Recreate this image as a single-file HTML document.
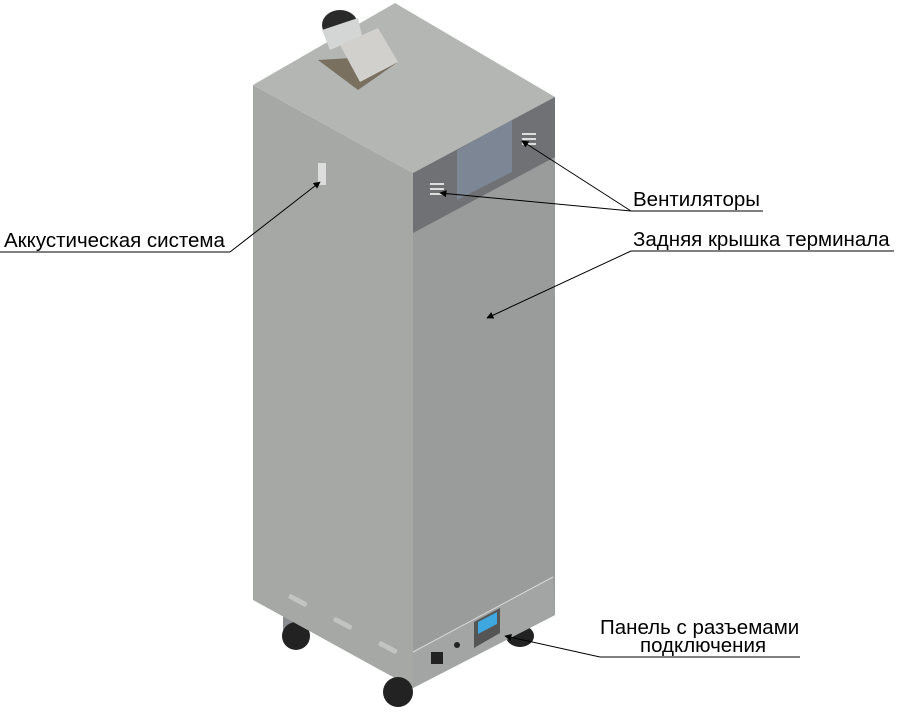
<!DOCTYPE html>
<html><head><meta charset="utf-8"><style>
html,body{margin:0;padding:0;background:#fff;}
svg{display:block;}
text{font-family:"Liberation Sans",Arial,sans-serif;font-size:20.5px;fill:#000;}
</style></head><body>
<svg width="900" height="717" viewBox="0 0 900 717" xmlns="http://www.w3.org/2000/svg">
<defs>
<marker id="ar" viewBox="0 0 10 10" refX="9" refY="5" markerWidth="9" markerHeight="7" orient="auto-start-reverse" markerUnits="userSpaceOnUse"><path d="M0,0 L10,5 L0,10 z" fill="#000"/></marker>
</defs>
<ellipse cx="520" cy="636" rx="14" ry="11" fill="#222"/>
<rect x="283" y="610" width="14" height="20" fill="#8a8d90"/>
<ellipse cx="296" cy="636" rx="14" ry="14" fill="#222"/>
<polygon points="253,85 413,173 413,688 253,600" fill="#a6a8a6"/>
<polygon points="413,173 555,97 555,615 413,688" fill="#9a9c9b"/>
<polygon points="253,85 395,3 555,97 413,173" fill="#b4b6b4"/>
<polygon points="413,173 555,97 555,157 413,233" fill="#6f7174"/>
<polygon points="457,150 512,120 512,172 457,200" fill="#7d8694"/>
<g fill="#ddd"><rect x="430" y="183" width="14" height="2"/><rect x="430" y="188" width="14" height="2"/><rect x="430" y="193" width="14" height="2"/><rect x="522" y="133" width="14" height="2"/><rect x="522" y="138" width="14" height="2"/><rect x="522" y="143" width="14" height="2"/></g>
<polygon points="413,652 553,577 555,615 413,688" fill="#a3a5a4"/>
<line x1="413" y1="652" x2="553" y2="577" stroke="#d8d8d8" stroke-width="1"/>
<polygon points="474,622 500,608 500,633 474,648" fill="#555"/>
<polygon points="478,622 497,612 497,624 478,634" fill="#3fa7e0"/>
<rect x="431" y="652" width="12" height="12" fill="#222"/>
<circle cx="457" cy="645" r="3" fill="#222"/>
<g fill="#c2c4c2"><rect x="288" y="598" width="20" height="5" rx="2" transform="rotate(28 298 600)"/><rect x="333" y="621" width="20" height="5" rx="2" transform="rotate(28 343 623)"/><rect x="378" y="645" width="20" height="5" rx="2" transform="rotate(28 388 647)"/></g>
<g fill="#ddd"><rect x="318" y="163" width="8" height="22"/></g>
<ellipse cx="398" cy="692" rx="15" ry="15" fill="#222"/>
<ellipse cx="340" cy="25" rx="18" ry="15" fill="#2a2a2a"/>
<polygon points="322,30 358,18 362,36 330,50" fill="#d4d6d6"/>
<polygon points="318,60 385,56 398,62 358,90" fill="#7a7060"/>
<polygon points="340,45 378,28 398,62 360,82" fill="#d2d0cc"/>
<g stroke="#000" stroke-width="1" fill="none">
<line x1="230" y1="252" x2="0" y2="252"/>
<line x1="230" y1="252" x2="320" y2="182" marker-end="url(#ar)"/>
<line x1="631" y1="211" x2="763" y2="211"/>
<line x1="631" y1="211" x2="440" y2="193" marker-end="url(#ar)"/>
<line x1="631" y1="211" x2="522" y2="141" marker-end="url(#ar)"/>
<line x1="631" y1="251" x2="894" y2="251"/>
<line x1="631" y1="251" x2="487" y2="318" marker-end="url(#ar)"/>
<line x1="600" y1="657" x2="800" y2="657"/>
<line x1="600" y1="657" x2="505" y2="636" marker-end="url(#ar)"/>
</g>
<text x="4" y="247">Аккустическая система</text>
<text x="633" y="206">Вентиляторы</text>
<text x="633" y="246">Задняя крышка терминала</text>
<text x="600" y="634">Панель с разъемами</text>
<text x="640" y="652">подключения</text>
</svg>
</body></html>
